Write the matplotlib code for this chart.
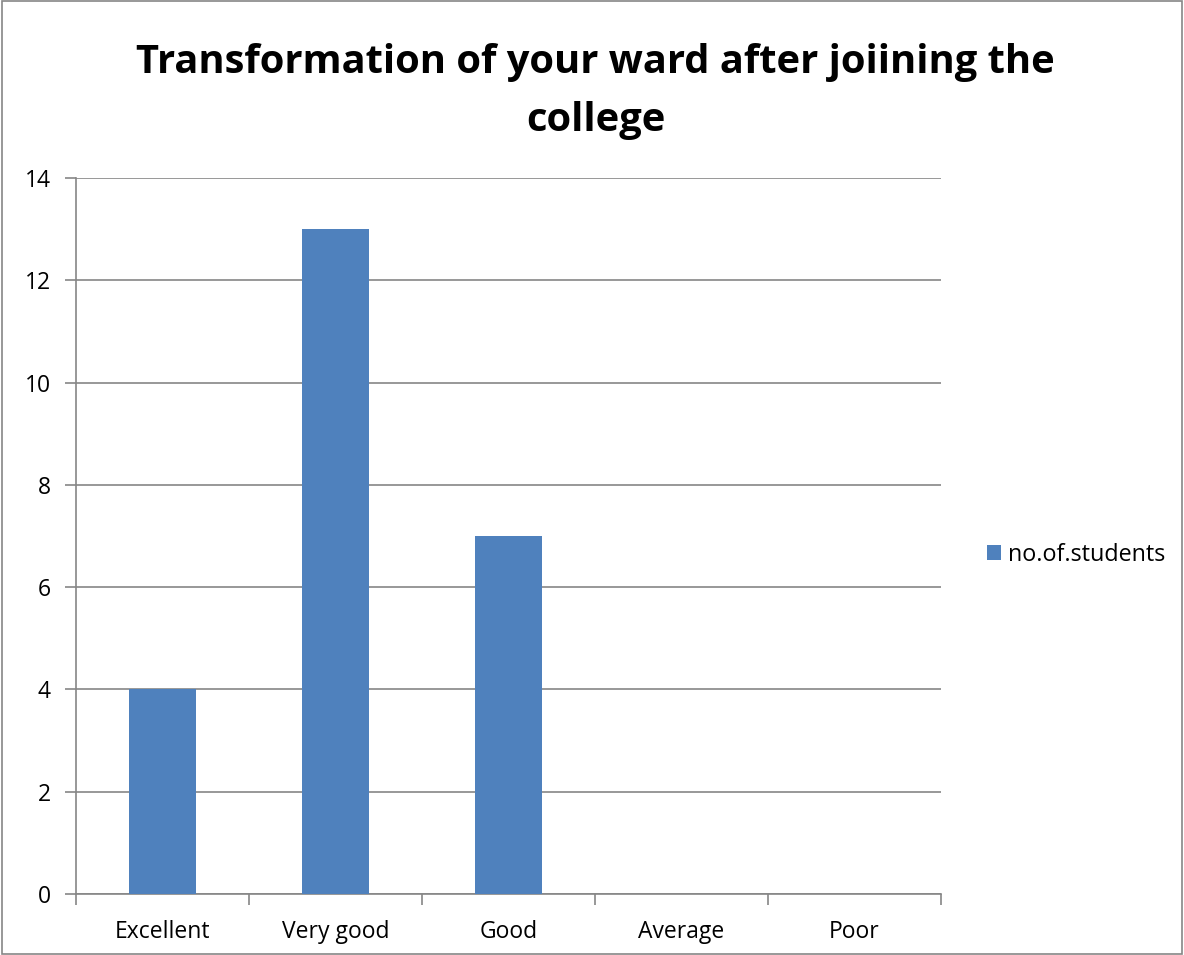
import matplotlib
matplotlib.use("Agg")
import matplotlib.pyplot as plt
from matplotlib.patches import Rectangle

categories = ["Excellent", "Very good", "Good", "Average", "Poor"]
values = [4, 13, 7, 0, 0]
series_name = "no.of.students"
title = "Transformation of your ward after joiining the\ncollege"

plt.rcParams['font.family'] = ['Open Sans', 'DejaVu Sans']

fig = plt.figure(figsize=(11.84, 9.55), dpi=100)
ax = fig.add_axes([76/1184, 1-894/955, (941-76)/1184, (894-178)/955])

x = list(range(len(categories)))
ax.bar(x, values, width=0.39, color="#4F81BD", label=series_name, zorder=3)

ax.set_xlim(-0.5, len(categories) - 0.5)
ax.set_ylim(0, 14)
ax.set_yticks(range(0, 15, 2))
ax.yaxis.grid(True, color="#868686", linewidth=1.2, zorder=0)

for s in ["top", "right"]:
    ax.spines[s].set_visible(False)
for s in ["left", "bottom"]:
    ax.spines[s].set_color("#868686")
    ax.spines[s].set_linewidth(1.2)

ax.set_xticks(x)
ax.set_xticklabels(categories, fontsize=16.5)
ax.tick_params(axis='x', length=0, pad=19)
ax.set_xticks([i - 0.5 for i in range(len(categories) + 1)], minor=True)
ax.tick_params(axis='x', which='minor', length=8, color="#868686", width=1.2)
ax.tick_params(axis='y', length=8, color="#868686", width=1.2, labelsize=16.5, pad=10)

fig.text(0.503, 0.955, title, ha='center', va='top', fontsize=28.7,
         fontweight='bold', linespacing=1.62)

fig.legend(loc='center left', bbox_to_anchor=(966/1184, 1-555/955), frameon=False,
           fontsize=16.8, handlelength=0.6, handleheight=0.6, handletextpad=0.3)

fig.patches.append(Rectangle((0.0015, 0.0015), 0.997, 0.997, transform=fig.transFigure,
                             fill=False, edgecolor="#868686", linewidth=1.2))

fig.savefig("out.png", dpi=100)
